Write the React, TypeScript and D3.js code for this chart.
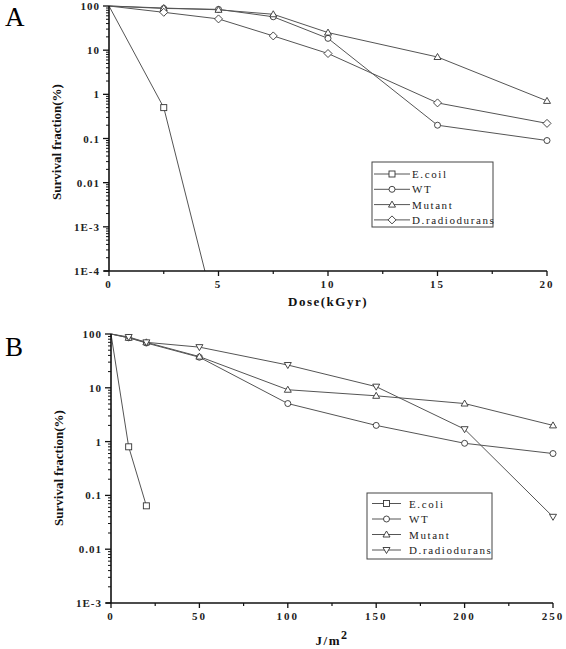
import React from "react";
import * as d3 from "d3";

const doseA = [0, 2.5, 5, 7.5, 10, 15, 20];
const ecoliA = [100, 0.5, 6e-6];
const ecoliDoseA = [0, 2.5, 5];
const wtA = [100, 88, 84, 57, 18.5, 0.2, 0.09];
const mutantA = [100, 90, 82, 65, 25, 7, 0.71];
const draA = [100, 72, 51, 21, 8.4, 0.64, 0.22];

const doseB = [0, 10, 20, 50, 100, 150, 200, 250];
const ecoliDoseB = [0, 10, 20];
const ecoliB = [100, 0.8, 0.064];
const wtB = [100, 85, 68, 37, 5.1, 2.0, 0.93, 0.6];
const mutantB = [100, 85, 70, 38, 9.2, 7.1, 5.1, 2.0];
const draB = [100, 88, 70, 57, 26.5, 10.5, 1.7, 0.04];

const xTicksA = [0, 5, 10, 15, 20];
const xMinorA = [2.5, 7.5, 12.5, 17.5];
const yTicksA = [1e-4, 1e-3, 0.01, 0.1, 1, 10, 100];
const yLabelsA = ["1E-4", "1E-3", "0.01", "0.1", "1", "10", "100"];

const xTicksB = [0, 50, 100, 150, 200, 250];
const xMinorB = [25, 75, 125, 175, 225];
const yTicksB = [1e-3, 0.01, 0.1, 1, 10, 100];
const yLabelsB = ["1E-3", "0.01", "0.1", "1", "10", "100"];

const legendA = ["E.coil", "WT", "Mutant", "D.radiodurans"];
const legendB = ["E.coli", "WT", "Mutant", "D.radiodurans"];

const LINE = "#555";
const FONT = "'Liberation Serif', 'Times New Roman', serif";

function Marker({ kind, x, y }: { kind: string; x: number; y: number }) {
  const s = 3;
  const common = { fill: "white", stroke: "#333", strokeWidth: 0.9 };
  if (kind === "square") return <rect x={x - s} y={y - s} width={2 * s} height={2 * s} {...common} />;
  if (kind === "circle") return <circle cx={x} cy={y} r={s} {...common} />;
  if (kind === "up") return <path d={`M${x},${y - s - 0.5}L${x + s + 0.5},${y + s - 0.5}L${x - s - 0.5},${y + s - 0.5}Z`} {...common} />;
  if (kind === "down") return <path d={`M${x},${y + s + 0.5}L${x + s + 0.5},${y - s + 0.5}L${x - s - 0.5},${y - s + 0.5}Z`} {...common} />;
  return <path d={`M${x},${y - s - 1}L${x + s + 1},${y}L${x},${y + s + 1}L${x - s - 1},${y}Z`} {...common} />;
}

type Series = { xs: number[]; ys: number[]; kind: string };

function Panel(props: {
  id: string;
  letter: string;
  top: number;
  x0: number; x1: number; y0: number; y1: number;
  xDomain: [number, number]; yDomain: [number, number];
  xTicks: number[]; xMinor: number[]; yTicks: number[]; yLabels: string[];
  series: Series[];
  legend: string[];
  legendBox: { x: number; y: number; w: number; h: number; rowY: number; step: number; lx0: number; lx1: number; tx: number };
  xlabel: React.ReactNode;
  xlabelY: number;
  ylabelCenter: number;
}) {
  const p = props;
  const x = d3.scaleLinear().domain(p.xDomain).range([p.x0, p.x1]);
  const y = d3.scaleLog().domain(p.yDomain).range([p.y1, p.y0]);
  const line = d3.line<[number, number]>().x((d) => x(d[0])).y((d) => y(d[1]));
  const minors: number[] = [];
  for (let i = 0; i < p.yTicks.length - 1; i++) {
    for (let k = 2; k <= 9; k++) minors.push(p.yTicks[i] * k);
  }
  const kinds = p.series.map((s) => s.kind);
  return (
    <g>
      <defs>
        <clipPath id={`clip${p.id}`}>
          <rect x={p.x0 - 5} y={p.y0 - 6} width={p.x1 - p.x0 + 10} height={p.y1 - p.y0 + 6} />
        </clipPath>
      </defs>
      <text x={5} y={p.top + 26} fontFamily={FONT} fontSize={27}>{p.letter}</text>
      <g clipPath={`url(#clip${p.id})`}>
        {p.series.map((s, i) => (
          <path key={i} d={line(s.xs.map((v, j) => [v, s.ys[j]] as [number, number])) || ""} fill="none" stroke={LINE} strokeWidth={1} />
        ))}
        {p.series.map((s, i) =>
          s.xs.map((v, j) =>
            j === 0 || s.ys[j] < p.yDomain[0] ? null : <Marker key={`${i}-${j}`} kind={s.kind} x={x(v)} y={y(s.ys[j])} />
          )
        )}
      </g>
      <line x1={p.x0} x2={p.x0} y1={p.y0} y2={p.y1} stroke="#111" strokeWidth={1.6} />
      <line x1={p.x0 - 5} x2={p.x1} y1={p.y1} y2={p.y1} stroke="#111" strokeWidth={1.6} />
      {p.yTicks.map((t, i) => (
        <g key={`yt${i}`}>
          <line x1={p.x0 - 6} x2={p.x0} y1={y(t)} y2={y(t)} stroke="#111" strokeWidth={1.3} />
          <text x={p.x0 - 9} y={y(t) + 4} textAnchor="end" fontFamily={FONT} fontSize={11} fontWeight="bold" letterSpacing={1} fill="#222">
            {p.yLabels[i]}
          </text>
        </g>
      ))}
      {minors.map((t, i) => (
        <line key={`ym${i}`} x1={p.x0 - 3} x2={p.x0} y1={y(t)} y2={y(t)} stroke="#111" strokeWidth={1} />
      ))}
      {p.xTicks.map((t, i) => (
        <g key={`xt${i}`}>
          <line x1={x(t)} x2={x(t)} y1={p.y1} y2={p.y1 + 5} stroke="#111" strokeWidth={1.3} />
          <text x={x(t)} y={p.y1 + 17} textAnchor="middle" fontFamily={FONT} fontSize={11} fontWeight="bold" letterSpacing={2} fill="#222">
            {t}
          </text>
        </g>
      ))}
      {p.xMinor.map((t, i) => (
        <line key={`xm${i}`} x1={x(t)} x2={x(t)} y1={p.y1} y2={p.y1 + 3} stroke="#111" strokeWidth={1.2} />
      ))}
      <text
        transform={`translate(${p.x0 - 48},${p.ylabelCenter}) rotate(-90)`}
        textAnchor="middle"
        fontFamily={FONT}
        fontSize={13}
        fontWeight="bold"
        fill="#111"
      >
        Survival fraction(%)
      </text>
      <text x={(p.x0 + p.x1) / 2} y={p.xlabelY} textAnchor="middle" fontFamily={FONT} fontSize={13} fontWeight="bold" letterSpacing={1.5} fill="#111">
        {p.xlabel}
      </text>
      <rect x={p.legendBox.x} y={p.legendBox.y} width={p.legendBox.w} height={p.legendBox.h} fill="white" stroke="#444" strokeWidth={1} />
      {p.legend.map((name, i) => {
        const ly = p.legendBox.rowY + i * p.legendBox.step;
        return (
          <g key={`lg${i}`}>
            <line x1={p.legendBox.lx0} x2={p.legendBox.lx1} y1={ly} y2={ly} stroke={LINE} strokeWidth={1} />
            <Marker kind={kinds[i]} x={(p.legendBox.lx0 + p.legendBox.lx1) / 2} y={ly} />
            <text x={p.legendBox.tx} y={ly + 4} fontFamily={FONT} fontSize={11} letterSpacing={1.6} fill="#222">
              {name}
            </text>
          </g>
        );
      })}
    </g>
  );
}

export default function App() {
  return (
    <svg width={566} height={649} style={{ position: "absolute", left: 0, top: 0, background: "white" }}>
      <Panel
        id="A"
        letter="A"
        top={0}
        x0={109}
        x1={547}
        y0={6}
        y1={271}
        xDomain={[0, 20]}
        yDomain={[1e-4, 100]}
        xTicks={xTicksA}
        xMinor={xMinorA}
        yTicks={yTicksA}
        yLabels={yLabelsA}
        series={[
          { xs: ecoliDoseA, ys: ecoliA, kind: "square" },
          { xs: doseA, ys: wtA, kind: "circle" },
          { xs: doseA, ys: mutantA, kind: "up" },
          { xs: doseA, ys: draA, kind: "diamond" },
        ]}
        legend={legendA}
        legendBox={{ x: 372, y: 162, w: 121, h: 65, rowY: 174, step: 15.3, lx0: 374, lx1: 410, tx: 412 }}
        xlabel="Dose(kGyr)"
        xlabelY={306}
        ylabelCenter={142}
      />
      <Panel
        id="B"
        letter="B"
        top={330}
        x0={111}
        x1={553}
        y0={334}
        y1={603}
        xDomain={[0, 250]}
        yDomain={[1e-3, 100]}
        xTicks={xTicksB}
        xMinor={xMinorB}
        yTicks={yTicksB}
        yLabels={yLabelsB}
        series={[
          { xs: ecoliDoseB, ys: ecoliB, kind: "square" },
          { xs: doseB, ys: wtB, kind: "circle" },
          { xs: doseB, ys: mutantB, kind: "up" },
          { xs: doseB, ys: draB, kind: "down" },
        ]}
        legend={legendB}
        legendBox={{ x: 367, y: 493, w: 125, h: 66, rowY: 503.5, step: 15.5, lx0: 372, lx1: 401, tx: 409 }}
        xlabel={
          <>
            J/m
            <tspan dy={-6} fontSize={12}>2</tspan>
          </>
        }
        xlabelY={645}
        ylabelCenter={468}
      />
    </svg>
  );
}
